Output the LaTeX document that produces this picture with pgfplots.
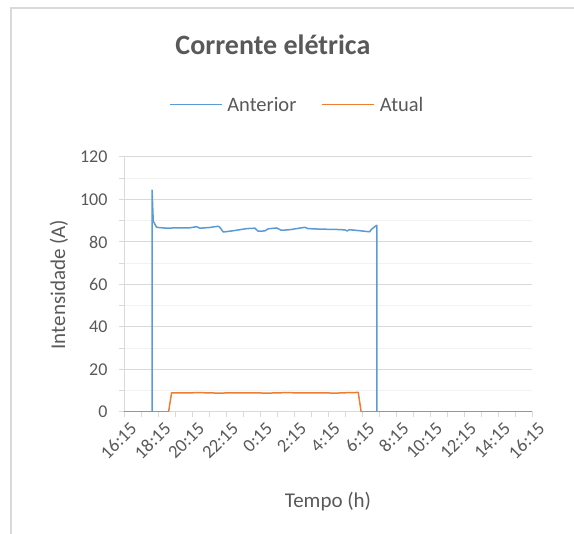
\documentclass[border=0pt]{standalone}
\usepackage{fontspec}
\setmainfont{Carlito}
\usepackage{pgfplots}
\pgfplotsset{compat=1.18}

\definecolor{txtgray}{HTML}{595959}
\definecolor{gridmaj}{HTML}{D9D9D9}
\definecolor{gridmin}{HTML}{F2F2F2}
\definecolor{serblue}{HTML}{5B9BD5}
\definecolor{serorange}{HTML}{ED7D31}

\begin{document}
\begin{tikzpicture}[x=1pt,y=1pt]
\useasboundingbox (0,0) rectangle (574,-534);
\draw[gridmaj, line width=1.5pt] (574,-8) -- (11,-8) -- (11,-534);
\begin{axis}[
    at={(124pt,-412pt)}, anchor=south west,
    scale only axis,
    width=408pt, height=255pt,
    xmin=0, xmax=24, ymin=0, ymax=120,
    xtick={0,2,...,24},
    xticklabels={16:15,18:15,20:15,22:15,0:15,2:15,4:15,6:15,8:15,10:15,12:15,14:15,16:15},
    minor xtick={1,3,...,23},
    ytick={0,20,...,120},
    minor ytick={10,30,...,110},
    ymajorgrids, yminorgrids,
    major grid style={draw=gridmaj, line width=1pt},
    minor grid style={draw=gridmin, line width=1pt},
    axis x line*=bottom, axis y line*=left,
    axis line style={draw=gridmaj, line width=1pt},
    tick align=outside,
    major tick length=5pt, minor tick length=5pt,
    tick style={draw=gridmaj, line width=1pt},
    /pgf/number format/assume math mode=true,
    xticklabel style={rotate=45, anchor=north east, xshift=4pt, yshift=-3pt,
        font=\fontsize{18.5}{20}\selectfont, text=txtgray},
    yticklabel style={xshift=-8pt, font=\fontsize{18}{20}\selectfont, text=txtgray},
    xlabel={Tempo (h)},
    xlabel style={at={(axis description cs:0.5,-0.376)}, anchor=base, font=\fontsize{21}{23}\selectfont, text=txtgray},
    ylabel={Intensidade (A)},
    ylabel style={at={(axis description cs:-0.144,0.5)}, anchor=base, font=\fontsize{21}{23}\selectfont, text=txtgray},
    title={Corrente elétrica},
    title style={at={(axis description cs:0.365,1.379)}, anchor=base, font=\bfseries\fontsize{28}{30}\selectfont, text=txtgray},
    legend columns=2,
    legend image code/.code={\draw[#1] (0pt,0pt) -- (52pt,0pt);},
    legend style={at={(axis description cs:0.428,1.205)}, anchor=center, draw=none, fill=none,
        font=\fontsize{20.5}{22}\selectfont, text=txtgray,
        nodes={inner xsep=5pt},
        /tikz/every even column/.append style={column sep=20pt}},
]
\addplot[serblue, line width=1.5pt, line join=round, no marks] coordinates {
  (0,0) (1.65,0) (1.65,104.4) (1.72,89.8) (1.92,86.9) (2.51,86.5) (3.2,86.7)
  (3.8,86.6) (4.27,87.2) (4.46,86.5) (5.0,86.8) (5.54,87.4) (5.64,86.9)
  (5.84,84.7) (6.43,85.3) (7.21,86.3) (7.70,86.5) (7.89,85.1) (8.28,85.2)
  (8.48,86.2) (8.97,86.6) (9.27,85.5) (9.76,85.8) (10.15,86.3) (10.64,86.9)
  (10.83,86.3) (11.4,86.1) (11.91,86.0) (12.5,85.9) (12.99,85.7) (13.13,85.2)
  (13.25,85.8) (13.87,85.3) (14.45,84.8) (14.55,85.9) (14.83,87.7) (14.87,87.8) (14.87,0) (24,0)
};
\addlegendentry{Anterior}
\addplot[serorange, line width=1.5pt, line join=round, no marks] coordinates {
  (0,0) (2.62,0) (2.8,9.0) (3.5,9.0) (4.5,9.1) (5.5,8.9) (6.5,9.0) (7.5,9.0)
  (8.5,8.9) (9.5,9.1) (10.5,9.0) (11.5,9.0) (12.5,8.9) (13.2,9.1) (13.78,9.2)
  (13.95,0) (24,0)
};
\addlegendentry{Atual}
\end{axis}
\end{tikzpicture}
\end{document}
